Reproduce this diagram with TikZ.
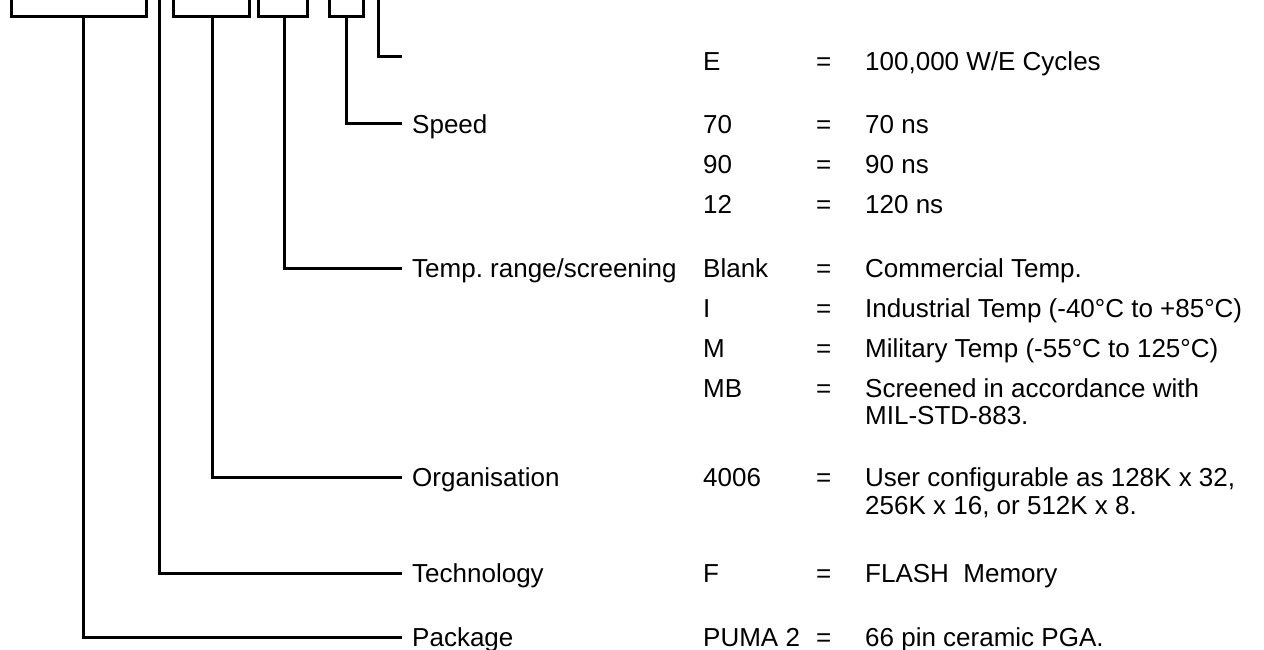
\documentclass[tikz,border=0pt]{standalone}
\usepackage{fontspec}
\setmainfont{Liberation Sans}
\usetikzlibrary{positioning}
\tikzset{
    voce/.style = {inner sep = 0pt, text height = 18.6pt, text depth = 0pt, anchor = west},
    campo/.style = {voce, inner xsep = 10pt},
    linea/.style = {line width = 3pt}
}
\frenchspacing

\begin{document}
\begin{tikzpicture}[x = 1pt, y = -1pt, font = \fontsize{26}{30}\selectfont]
    \useasboundingbox (0,0) rectangle (1264,650);
    \pgfmathsetmacro{\xcod}{703}
    \pgfmathsetmacro{\xeq}{816}
    \pgfmathsetmacro{\xval}{865}

    % Parentesi in alto
    \draw[linea] (11,-5) |- (146,17) -- (146,-5);
    \draw[linea] (173,-5) |- (249,17) -- (249,-5);
    \draw[linea] (258,-5) |- (307,17) -- (307,-5);
    \draw[linea] (329,-5) |- (363,17) -- (363,-5);
    % punti di partenza delle linee
    \coordinate (puma) at (83,17);
    \coordinate (flash) at (159,-5);
    \coordinate (organ) at (212,17);
    \coordinate (temper) at (284,17);
    \coordinate (veloc) at (346,17);
    \coordinate (cicli) at (378,-5);
    \coordinate (fine) at (402,57);

    % Campi
    \node[campo] (speed) at (402,124) {Speed};
    \node[campo] (temp) at (402,268) {Temp. range/screening};
    \node[campo] (org) at (402,477) {Organisation};
    \node[campo] (tech) at (402,573) {Technology};
    \node[campo] (pkg) at (402,637) {Package};

    % Linee
    \draw[linea] (cicli) |- (fine);
    \draw[linea] (veloc) |- (speed.west);
    \draw[linea] (temper) |- (temp.west);
    \draw[linea] (organ) |- (org.west);
    \draw[linea] (flash) |- (tech.west);
    \draw[linea] (puma) |- (pkg.west);

    % Codici
    \node[voce] (cE) at (\xcod,61) {E};
    \node[voce] (cSetta) at (\xcod,124) {70};
    \node[voce] (cNova) at (\xcod,164) {90};
    \node[voce] (cDodi) at (\xcod,204) {12};
    \node[voce] (cBlank) at (\xcod,268) {Blank};
    \node[voce] (cI) at (\xcod,308) {I};
    \node[voce] (cM) at (\xcod,348) {M};
    \node[voce] (cMB) at (\xcod,388) {MB};
    \node[voce] (cOrg) at (\xcod,477) {4006};
    \node[voce] (cF) at (\xcod,573) {F};
    \node[voce] (cPuma) at (\xcod,637) {PUMA 2};
    % Uguali
    \foreach \y in {61,124,164,204,268,308,348,388,477,573,637}{
        \node[voce] at (\xeq,\y) {=};
    };
    % Valori
    \node[voce] (vE) at (\xval,61) {100,000 W/E Cycles};
    \node[voce] (vSetta) at (\xval,124) {70 ns};
    \node[voce] (vNova) at (\xval,164) {90 ns};
    \node[voce] (vDodi) at (\xval,204) {120 ns};
    \node[voce] (vBlank) at (\xval,268) {Commercial Temp.};
    \node[voce] (vI) at (\xval,308) {Industrial Temp (-40°C to +85°C)};
    \node[voce] (vM) at (\xval,348) {Military Temp (-55°C to 125°C)};
    \node[voce] (vMB) at (\xval,388) {Screened in accordance with};
    \node[voce] (vMil) at (\xval,415) {MIL-STD-883.};
    \node[voce] (vOrg) at (\xval,477) {User configurable as 128K x 32,};
    \node[voce] (vOrgDue) at (\xval,505) {256K x 16, or 512K x 8.};
    \node[voce] (vF) at (\xval,573) {FLASH\ \ Memory};
    \node[voce] (vPuma) at (\xval,637) {66 pin ceramic PGA.};
\end{tikzpicture}
\end{document}
